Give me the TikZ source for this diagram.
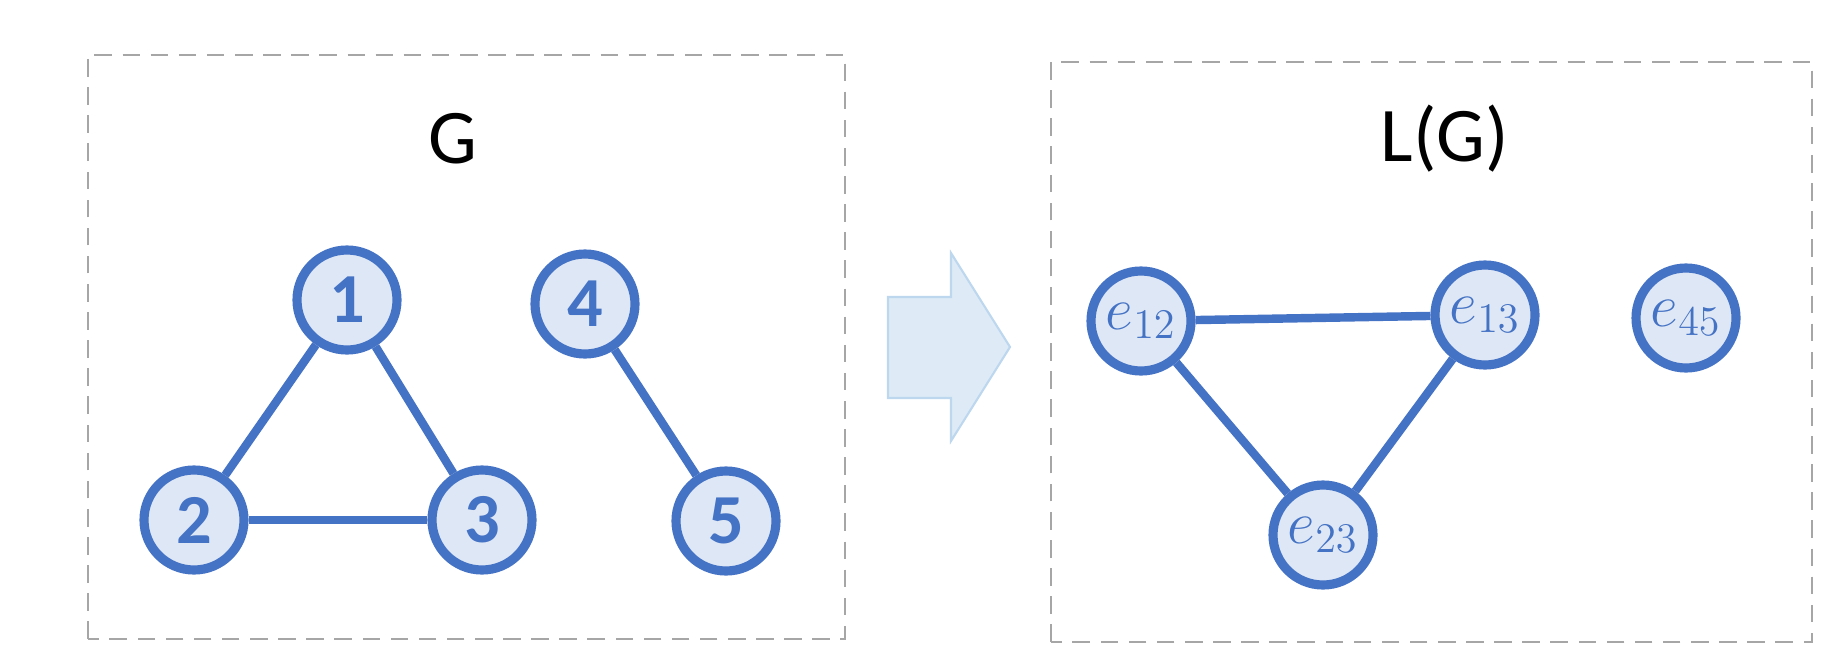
\documentclass[tikz,border=0pt]{standalone}
\usepackage{fontspec}
\setmainfont{Carlito}
\definecolor{nodeblue}{RGB}{68,114,196}
\definecolor{nodefill}{RGB}{222,231,245}
\definecolor{arrowfill}{RGB}{222,235,247}
\definecolor{arrowline}{RGB}{189,215,238}
\begin{document}
\begin{tikzpicture}[
    vert/.style={draw=nodeblue, circle, fill=nodefill, line width=2.6pt, minimum size=1.0cm, inner sep=0pt, text=nodeblue, font=\fontsize{20}{20}\selectfont\bfseries},
    evert/.style={vert, font=\fontsize{18}{18}\selectfont},
    link/.style={draw=nodeblue, line width=2.4pt},
    panel/.style={draw=gray!70, dashed, dash pattern=on 5pt off 3pt, line width=0.6pt},
    title/.style={font=\fontsize{22}{22}\selectfont}
]
        \useasboundingbox (0,0) rectangle (18.45,6.66);

        % Left: graph G
        \draw[panel] (0.88,0.27) rectangle (8.45,6.11);
        \node[title] (gtitle) at (4.53,5.27) {G};

        \node[vert] (n1) at (3.47,3.66) {1};
        \node[vert] (n2) at (1.94,1.46) {2};
        \node[vert] (n3) at (4.82,1.46) {3};
        \node[vert] (n4) at (5.85,3.62) {4};
        \node[vert] (n5) at (7.26,1.45) {5};

        \draw[link] (n1) -- (n2);
        \draw[link] (n1) -- (n3);
        \draw[link] (n2) -- (n3);
        \draw[link] (n4) -- (n5);

        % Block arrow between the panels
        \draw[fill=arrowfill, draw=arrowline, line width=0.6pt]
            (8.88,3.69) -- (9.51,3.69) -- (9.51,4.13) -- (10.10,3.19)
            -- (9.51,2.25) -- (9.51,2.68) -- (8.88,2.68) -- cycle;

        % Right: line graph L(G)
        \draw[panel] (10.51,0.24) rectangle (18.12,6.04);
        \node[title] (ltitle) at (14.45,5.27) {L(G)};

        \node[evert] (e12) at (11.41,3.45) {$e_{12}$};
        \node[evert] (e13) at (14.85,3.51) {$e_{13}$};
        \node[evert] (e45) at (16.86,3.48) {$e_{45}$};
        \node[evert] (e23) at (13.23,1.31) {$e_{23}$};

        \draw[link] (e12) -- (e13);
        \draw[link] (e12) -- (e23);
        \draw[link] (e13) -- (e23);
\end{tikzpicture}
\end{document}
